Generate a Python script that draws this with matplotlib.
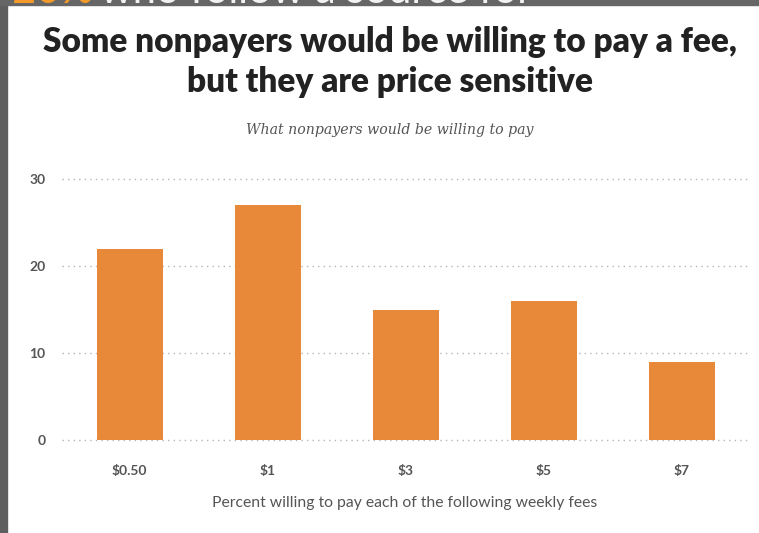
import matplotlib.pyplot as plt
from matplotlib.patches import Rectangle

fees = ["$0.50", "$1", "$3", "$5", "$7"]
pct_willing = [22, 27, 15, 16, 9]
y_ticks = [0, 10, 20, 30]

title = "Some nonpayers would be willing to pay a fee,\nbut they are price sensitive"
subtitle = "What nonpayers would be willing to pay"
xlab = "Percent willing to pay each of the following weekly fees"

W, H = 759, 533
fig = plt.figure(figsize=(W / 100, H / 100), dpi=100)
fig.patch.set_facecolor("white")

# page frame: dark strip on the left and a band on top
fig.patches.append(Rectangle((0, 0), 7 / W, 1, transform=fig.transFigure,
                             color="#5e5e5e", zorder=5))
band = Rectangle((0, 1 - 5 / H), 1, 5 / H, transform=fig.transFigure,
                 color="#666666", zorder=5)
fig.patches.append(band)
# bottom edge of the headline above, cut by the band
for xpos, txt, col in [(12, "20%", "#f39a2a"), (100, "who follow a source for", "#f2f2f2")]:
    t = fig.text(xpos / W, 1 - 3 / H, txt, color=col, fontsize=30,
                 family="Lato", va="baseline", zorder=6)
    t.set_clip_path(band)

fig.text(390 / W, 1 - 62 / H, title, ha="center", va="center", fontsize=24,
         fontweight="heavy", family="Lato", color="#222222", linespacing=1.32)
fig.text(390 / W, 1 - 130 / H, subtitle, ha="center", va="center", fontsize=10.2,
         style="italic", family="DejaVu Serif", color="#555555")

ax = fig.add_axes([62 / W, 93 / H, (748 - 62) / W, (440 - 179) / H])
x = range(len(fees))
ax.bar(x, pct_willing, width=0.48, color="#e8893a", zorder=2)
ax.set_xlim(-0.49, 4.48)
ax.set_ylim(0, 30)
ax.set_yticks(y_ticks)
ax.set_xticks(list(x))
ax.set_xticklabels(fees)
ax.yaxis.grid(True, color="#b5b5b5", linestyle=(0, (1, 3)), linewidth=1, zorder=1)
ax.set_axisbelow(True)
for gl in ax.get_ygridlines():
    gl.set_clip_on(False)
for s in ax.spines.values():
    s.set_visible(False)
ax.tick_params(length=0, colors="#555555", labelsize=10)
ax.tick_params(axis="x", pad=18)
ax.tick_params(axis="y", pad=12)
for lbl in ax.get_xticklabels() + ax.get_yticklabels():
    lbl.set_fontweight("bold")
    lbl.set_family("Lato")
ax.set_xlabel(xlab, fontsize=11.3, color="#555555", family="Lato", labelpad=14)

fig.savefig("out.png", dpi=100)
